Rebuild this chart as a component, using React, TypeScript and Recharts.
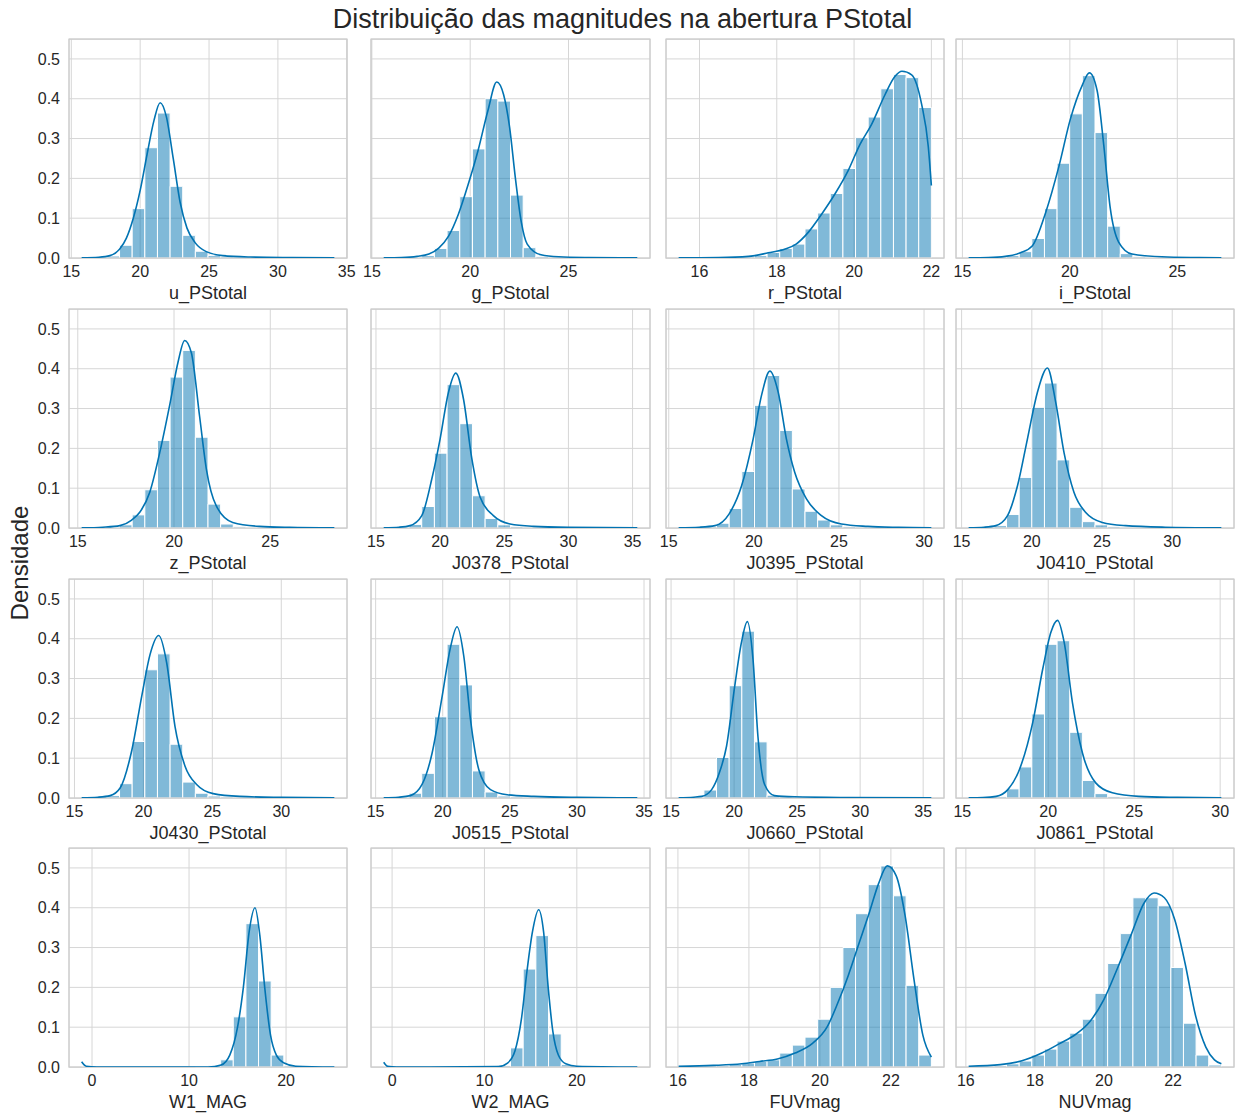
import { CartesianGrid, ComposedChart, Label, Line, ReferenceArea, XAxis, YAxis } from 'recharts';

const FONT = '"Liberation Sans", Arial, Helvetica, sans-serif';
const INK = '#262626';
const BLUE = '#0173b2';

// magnitude columns, in drawing order
const names = [
  'u_PStotal', 'g_PStotal', 'r_PStotal', 'i_PStotal',
  'z_PStotal', 'J0378_PStotal', 'J0395_PStotal', 'J0410_PStotal',
  'J0430_PStotal', 'J0515_PStotal', 'J0660_PStotal', 'J0861_PStotal',
  'W1_MAG', 'W2_MAG', 'FUVmag', 'NUVmag',
];

// [min, max] of each column (histogram + kde span)
const ranges = [
  [15.75, 34.1], [15.6, 28.5], [15.46, 22.0], [15.29, 27.05],
  [15.2, 28.33], [15.6, 35.37], [15.58, 30.43], [15.5, 33.5],
  [15.52, 33.85], [15.6, 34.5], [15.6, 35.65], [15.37, 30.07],
  [-1.07, 24.98], [-0.91, 26.55], [16.02, 23.14], [16.08, 23.4],
];

const xTicks = [
  [15, 20, 25, 30, 35], [15, 20, 25], [16, 18, 20, 22], [15, 20, 25],
  [15, 20, 25], [15, 20, 25, 30, 35], [15, 20, 25, 30], [15, 20, 25, 30],
  [15, 20, 25, 30], [15, 20, 25, 30, 35], [15, 20, 25, 30, 35], [15, 20, 25, 30],
  [0, 10, 20], [0, 10, 20], [16, 18, 20, 22], [16, 18, 20, 22],
];

const yTicks = [0, 0.1, 0.2, 0.3, 0.4, 0.5];
const Y_MAX = 0.55;

// density of each of the 20 bins
const uHist = [0.0003, 0.001, 0.005, 0.032, 0.124, 0.277, 0.364, 0.18, 0.057, 0.017, 0.006, 0.003, 0.002, 0.0015, 0.001, 0.0008, 0.0005, 0.0004, 0.0003, 0.0002];
const gHist = [0.0003, 0.0005, 0.001, 0.006, 0.024, 0.069, 0.154, 0.274, 0.4, 0.394, 0.158, 0.026, 0.004, 0.002, 0.001, 0.0005, 0.0003, 0.0002, 0.0001, 0.0001];
const rHist = [0.0003, 0.0005, 0.001, 0.001, 0.002, 0.003, 0.006, 0.014, 0.024, 0.035, 0.073, 0.113, 0.162, 0.225, 0.302, 0.354, 0.425, 0.461, 0.453, 0.378];
const iHist = [0.0003, 0.0005, 0.001, 0.006, 0.016, 0.049, 0.124, 0.238, 0.362, 0.458, 0.315, 0.08, 0.011, 0.003, 0.001, 0.0005, 0.0003, 0.0002, 0.0001, 0.0001];
const zHist = [0.0003, 0.0005, 0.001, 0.008, 0.033, 0.096, 0.22, 0.379, 0.446, 0.228, 0.06, 0.01, 0.003, 0.0015, 0.001, 0.0005, 0.0003, 0.0002, 0.0001, 0.0001];
const j0378Hist = [0.0005, 0.002, 0.009, 0.054, 0.188, 0.36, 0.262, 0.081, 0.024, 0.008, 0.004, 0.002, 0.0015, 0.001, 0.0008, 0.0005, 0.0004, 0.0003, 0.0002, 0.0001];
const j0395Hist = [0.0005, 0.001, 0.003, 0.012, 0.049, 0.142, 0.308, 0.383, 0.245, 0.098, 0.042, 0.02, 0.008, 0.004, 0.002, 0.0015, 0.001, 0.0007, 0.0005, 0.0003];
const j0410Hist = [0.0005, 0.002, 0.006, 0.034, 0.127, 0.303, 0.364, 0.171, 0.052, 0.016, 0.008, 0.004, 0.002, 0.0015, 0.001, 0.0008, 0.0005, 0.0004, 0.0003, 0.0002];
const j0430Hist = [0.0005, 0.002, 0.006, 0.036, 0.142, 0.322, 0.362, 0.135, 0.04, 0.012, 0.005, 0.003, 0.002, 0.0015, 0.001, 0.0008, 0.0005, 0.0004, 0.0003, 0.0002];
const j0515Hist = [0.0005, 0.002, 0.012, 0.062, 0.204, 0.386, 0.284, 0.068, 0.015, 0.005, 0.003, 0.002, 0.0015, 0.001, 0.0008, 0.0006, 0.0005, 0.0004, 0.0003, 0.0002];
const j0660Hist = [0.0005, 0.002, 0.02, 0.102, 0.282, 0.419, 0.141, 0.007, 0.003, 0.002, 0.0015, 0.001, 0.0008, 0.0006, 0.0005, 0.0004, 0.0003, 0.0003, 0.0002, 0.0002];
const j0861Hist = [0.0005, 0.001, 0.004, 0.023, 0.078, 0.211, 0.386, 0.395, 0.165, 0.044, 0.011, 0.004, 0.002, 0.0015, 0.001, 0.0008, 0.0006, 0.0005, 0.0004, 0.0003];
const w1Hist = [0.001, 0, 0, 0, 0, 0, 0, 0, 0, 0.0005, 0.003, 0.018, 0.126, 0.36, 0.216, 0.03, 0.003, 0.0008, 0.0003, 0.0002];
const w2Hist = [0.001, 0, 0, 0, 0, 0, 0, 0, 0.0005, 0.004, 0.048, 0.246, 0.33, 0.083, 0.006, 0.001, 0.0003, 0.0002, 0.0001, 0.0001];
const fuvHist = [0.001, 0.002, 0.003, 0.004, 0.006, 0.01, 0.014, 0.018, 0.035, 0.055, 0.075, 0.12, 0.2, 0.3, 0.385, 0.458, 0.505, 0.43, 0.205, 0.03];
const nuvHist = [0.001, 0.002, 0.004, 0.008, 0.015, 0.03, 0.045, 0.065, 0.085, 0.12, 0.185, 0.26, 0.335, 0.425, 0.425, 0.405, 0.25, 0.11, 0.03, 0.005];

// kde curves as [magnitude, density]
const uKde = [[15.75, 0.0005], [17.0, 0.002], [17.8, 0.006], [18.5, 0.022], [19.0, 0.05], [19.5, 0.1], [20.0, 0.17], [20.5, 0.26], [21.0, 0.345], [21.45, 0.39], [21.9, 0.355], [22.4, 0.25], [22.9, 0.14], [23.4, 0.075], [24.0, 0.038], [24.8, 0.016], [26.0, 0.006], [28.0, 0.0025], [31.0, 0.001], [34.1, 0.0003]];
const gKde = [[15.6, 0.0003], [16.5, 0.001], [17.3, 0.004], [17.9, 0.01], [18.4, 0.025], [18.9, 0.055], [19.4, 0.11], [19.9, 0.185], [20.4, 0.27], [20.9, 0.37], [21.35, 0.442], [21.7, 0.41], [22.0, 0.33], [22.3, 0.2], [22.6, 0.09], [22.9, 0.035], [23.6, 0.008], [24.5, 0.003], [26.0, 0.0012], [28.5, 0.0003]];
const rKde = [[15.46, 0.0003], [16.5, 0.001], [17.27, 0.004], [17.78, 0.013], [18.2, 0.022], [18.5, 0.035], [18.82, 0.065], [19.16, 0.11], [19.5, 0.16], [19.85, 0.22], [20.15, 0.285], [20.45, 0.335], [20.8, 0.41], [21.05, 0.455], [21.24, 0.469], [21.49, 0.46], [21.75, 0.385], [21.92, 0.28], [22.0, 0.182]];
const iKde = [[15.29, 0.0003], [16.2, 0.001], [17.0, 0.004], [17.7, 0.013], [18.26, 0.031], [18.88, 0.115], [19.49, 0.23], [20.03, 0.35], [20.57, 0.433], [20.91, 0.465], [21.27, 0.42], [21.58, 0.282], [21.88, 0.125], [22.27, 0.04], [22.89, 0.01], [24.28, 0.003], [26.0, 0.001], [27.05, 0.0003]];
const zKde = [[15.2, 0.0003], [16.3, 0.002], [17.19, 0.006], [17.8, 0.02], [18.23, 0.04], [18.74, 0.09], [19.26, 0.19], [19.78, 0.31], [20.21, 0.417], [20.55, 0.471], [20.9, 0.44], [21.33, 0.28], [21.68, 0.148], [22.19, 0.056], [23.05, 0.014], [24.43, 0.004], [26.0, 0.0015], [28.33, 0.0003]];
const j0378Kde = [[15.6, 0.0005], [16.8, 0.002], [17.66, 0.006], [18.57, 0.031], [19.35, 0.123], [20.0, 0.224], [20.65, 0.341], [21.22, 0.389], [21.82, 0.324], [22.47, 0.174], [23.12, 0.077], [24.15, 0.031], [25.45, 0.01], [27.27, 0.004], [30.0, 0.0015], [35.37, 0.0003]];
const j0395Kde = [[15.58, 0.0005], [16.8, 0.002], [17.72, 0.006], [18.54, 0.035], [19.28, 0.106], [19.96, 0.224], [20.45, 0.333], [20.94, 0.394], [21.43, 0.341], [21.91, 0.224], [22.4, 0.14], [23.09, 0.073], [23.97, 0.031], [25.14, 0.01], [26.7, 0.004], [28.5, 0.0015], [30.43, 0.0004]];
const j0410Kde = [[15.5, 0.0005], [16.6, 0.002], [17.44, 0.006], [18.27, 0.031], [18.98, 0.106], [19.69, 0.224], [20.4, 0.341], [21.11, 0.402], [21.7, 0.316], [22.29, 0.19], [23.0, 0.09], [23.84, 0.039], [25.02, 0.014], [26.68, 0.006], [29.5, 0.002], [33.5, 0.0004]];
const j0430Kde = [[15.52, 0.0005], [16.7, 0.002], [17.59, 0.006], [18.31, 0.025], [19.16, 0.12], [19.88, 0.256], [20.48, 0.36], [21.11, 0.408], [21.69, 0.339], [22.29, 0.18], [23.02, 0.08], [23.86, 0.034], [25.06, 0.011], [26.99, 0.004], [30.0, 0.0015], [33.85, 0.0004]];
const j0515Kde = [[15.6, 0.0005], [16.7, 0.002], [17.59, 0.006], [18.46, 0.034], [19.21, 0.113], [19.96, 0.256], [20.57, 0.377], [21.07, 0.43], [21.57, 0.356], [22.07, 0.197], [22.69, 0.071], [23.56, 0.021], [24.81, 0.008], [26.79, 0.004], [30.0, 0.0015], [34.5, 0.0004]];
const j0660Kde = [[15.6, 0.0004], [16.8, 0.002], [17.43, 0.004], [18.22, 0.021], [18.87, 0.067], [19.4, 0.13], [20.05, 0.281], [20.58, 0.39], [21.05, 0.443], [21.5, 0.348], [21.89, 0.155], [22.42, 0.034], [23.2, 0.006], [24.78, 0.003], [29.0, 0.0012], [35.65, 0.0003]];
const j0861Kde = [[15.37, 0.0004], [16.2, 0.001], [16.97, 0.004], [17.65, 0.021], [18.32, 0.071], [19.1, 0.19], [19.68, 0.324], [20.16, 0.417], [20.54, 0.446], [20.93, 0.39], [21.41, 0.239], [21.99, 0.113], [22.76, 0.038], [23.73, 0.013], [25.27, 0.004], [27.5, 0.0015], [30.07, 0.0004]];
const w1Kde = [[-1.07, 0.013], [-0.6, 0.002], [0.5, 0.0], [12.0, 0.0], [13.3, 0.005], [14.2, 0.03], [15.0, 0.1], [15.6, 0.2], [16.2, 0.34], [16.8, 0.4], [17.3, 0.33], [17.8, 0.2], [18.4, 0.08], [19.0, 0.03], [19.8, 0.01], [21.0, 0.002], [24.98, 0.0]];
const w2Kde = [[-0.91, 0.012], [-0.5, 0.002], [0.5, 0.0], [11.5, 0.001], [12.5, 0.01], [13.3, 0.04], [14.0, 0.12], [14.6, 0.24], [15.2, 0.34], [15.87, 0.395], [16.4, 0.34], [16.9, 0.2], [17.4, 0.09], [18.0, 0.03], [18.8, 0.008], [20.0, 0.002], [26.55, 0.0]];
const fuvKde = [[16.02, 0.002], [17.0, 0.004], [17.8, 0.008], [18.3, 0.014], [18.8, 0.02], [19.3, 0.035], [19.8, 0.06], [20.2, 0.1], [20.5, 0.16], [20.8, 0.23], [21.1, 0.31], [21.4, 0.39], [21.65, 0.46], [21.9, 0.505], [22.15, 0.48], [22.4, 0.38], [22.65, 0.22], [22.9, 0.08], [23.14, 0.025]];
const nuvKde = [[16.08, 0.002], [17.0, 0.006], [17.6, 0.015], [18.2, 0.035], [18.7, 0.058], [19.2, 0.083], [19.6, 0.115], [20.0, 0.17], [20.4, 0.25], [20.8, 0.335], [21.15, 0.41], [21.45, 0.437], [21.75, 0.425], [22.05, 0.37], [22.35, 0.26], [22.65, 0.13], [22.95, 0.05], [23.2, 0.018], [23.4, 0.008]];

const hists = [uHist, gHist, rHist, iHist, zHist, j0378Hist, j0395Hist, j0410Hist, j0430Hist, j0515Hist, j0660Hist, j0861Hist, w1Hist, w2Hist, fuvHist, nuvHist];
const kdes = [uKde, gKde, rKde, iKde, zKde, j0378Kde, j0395Kde, j0410Kde, j0430Kde, j0515Kde, j0660Kde, j0861Kde, w1Kde, w2Kde, fuvKde, nuvKde];

// grid geometry (plot areas)
const colLeft = [69, 371, 666, 956];
const colWidth = [278, 279, 278, 278];
const rowTop = [39, 309, 579, 848];
const PLOT_H = 219;
const SIDE = 16;
const TOP_PAD = 4;
const X_AXIS_H = 50;
const Y_AXIS_W = 60;

function HistPanel({ idx }: { idx: number }) {
  const row = Math.floor(idx / 4);
  const col = idx % 4;
  const [lo, hi] = ranges[idx];
  const pad = (hi - lo) * 0.05;
  const domain = [lo - pad, hi + pad];
  const hist = hists[idx];
  const step = (hi - lo) / hist.length;
  const rows = kdes[idx].map(([x, y]) => ({ x, y }));
  const showY = col === 0;
  const yw = showY ? Y_AXIS_W : 0;
  const plotW = colWidth[col];

  return (
    <div style={{ position: 'absolute', left: colLeft[col] - yw - SIDE, top: rowTop[row] - TOP_PAD }}>
      <ComposedChart
        width={yw + plotW + SIDE * 2}
        height={TOP_PAD + PLOT_H + X_AXIS_H}
        data={rows}
        margin={{ top: TOP_PAD, right: SIDE, bottom: 0, left: SIDE }}
      >
        <CartesianGrid stroke="#d6d6d6" strokeWidth={1} />
        <XAxis
          type="number"
          dataKey="x"
          domain={domain}
          allowDataOverflow
          ticks={xTicks[idx]}
          interval={0}
          tickLine={false}
          axisLine={false}
          tickSize={0}
          tickMargin={8}
          height={X_AXIS_H}
          tick={{ fontSize: 16, fill: INK, fontFamily: FONT }}
        >
          <Label value={names[idx]} position="insideBottom" offset={9} fontSize={18} fill={INK} fontFamily={FONT} />
        </XAxis>
        <YAxis
          type="number"
          domain={[0, Y_MAX]}
          allowDataOverflow
          ticks={yTicks}
          interval={0}
          width={Y_AXIS_W}
          hide={!showY}
          tickLine={false}
          axisLine={false}
          tickSize={0}
          tickMargin={9}
          tickFormatter={(v: number) => v.toFixed(1)}
          tick={{ fontSize: 16, fill: INK, fontFamily: FONT }}
        />
        {hist.map((h, i) => (
          <ReferenceArea
            key={i}
            x1={lo + i * step}
            x2={lo + (i + 1) * step}
            y1={0}
            y2={h}
            fill={BLUE}
            fillOpacity={0.5}
            stroke="#ffffff"
            strokeWidth={1}
            ifOverflow="visible"
          />
        ))}
        <ReferenceArea x1={domain[0]} x2={domain[1]} y1={0} y2={Y_MAX} fill="none" stroke="#cccccc" strokeWidth={1.25} ifOverflow="visible" />
        <Line type="monotone" dataKey="y" stroke={BLUE} strokeWidth={1.6} dot={false} activeDot={false} isAnimationActive={false} />
      </ComposedChart>
    </div>
  );
}

export default function App() {
  return (
    <div style={{ position: 'absolute', left: 0, top: 0, width: 1239, height: 1113, background: '#fff', fontFamily: FONT, color: INK }}>
      <div style={{ position: 'absolute', left: 0, top: 6, width: 1245, textAlign: 'center', fontSize: 27, lineHeight: '27px', whiteSpace: 'nowrap' }}>
        Distribuição das magnitudes na abertura PStotal
      </div>
      <div
        style={{
          position: 'absolute',
          left: 20,
          top: 563,
          fontSize: 24,
          lineHeight: '24px',
          whiteSpace: 'nowrap',
          transform: 'translate(-50%, -50%) rotate(-90deg)',
        }}
      >
        Densidade
      </div>
      {names.map((_, i) => (
        <HistPanel key={i} idx={i} />
      ))}
    </div>
  );
}
